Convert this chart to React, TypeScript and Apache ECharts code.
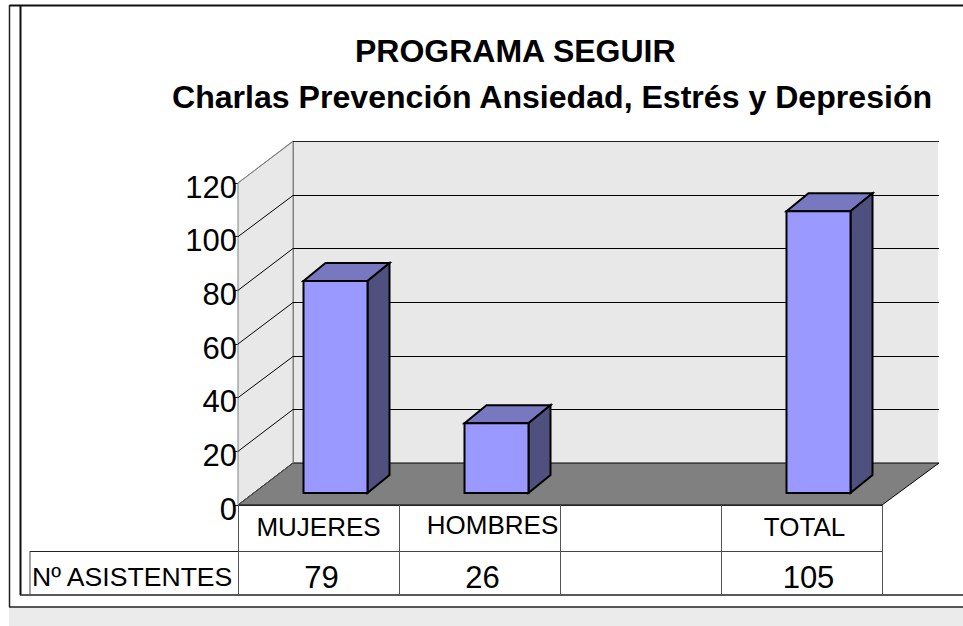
import React, { useEffect, useRef } from "react";
import * as echarts from "echarts";

const titleLine1 = "PROGRAMA SEGUIR";
const titleLine2 = "Charlas Prevención Ansiedad, Estrés y Depresión";
const categories = ["MUJERES", "HOMBRES", "", "TOTAL"];
const attendees: (number | null)[] = [79, 26, null, 105];
const rowLabel = "Nº ASISTENTES";
const yTicks = [0, 20, 40, 60, 80, 100, 120];
const valueLabelPad = [6, 6, 0, 14];

const FONT = '"Liberation Sans", Arial, sans-serif';
const GRID = { left: 238, top: 183, width: 644, height: 322 };
const DEPTH = { x: 55, y: -42 };
const BAR = { width: 64, dx: 22, dy: -18, shiftX: 17, shiftY: -12 };

function poly(points: number[][], fill: string, stroke: string, lineWidth = 1) {
  return { type: "polygon", shape: { points }, style: { fill, stroke, lineWidth } };
}
function seg(x1: number, y1: number, x2: number, y2: number, stroke: string, lineWidth = 1) {
  return { type: "line", shape: { x1, y1, x2, y2 }, style: { stroke, lineWidth }, silent: true };
}

export default function App() {
  const ref = useRef<HTMLDivElement>(null);
  useEffect(() => {
    document.body.style.margin = "0";
    const chart = echarts.init(ref.current!, null, { renderer: "svg" });
    const right = GRID.left + GRID.width;
    const bottom = GRID.top + GRID.height;
    const colEdges = categories.map((_, i) => GRID.left + (GRID.width * (i + 1)) / categories.length);
    chart.setOption({
      animation: false,
      backgroundColor: "#ffffff",
      textStyle: { fontFamily: FONT },
      title: [
        {
          text: titleLine1,
          left: 355,
          top: 35,
          padding: 0,
          textStyle: { fontFamily: FONT, fontSize: 32, fontWeight: "bold", color: "#000" },
        },
        {
          text: titleLine2,
          left: 172,
          top: 81,
          padding: 0,
          textStyle: { fontFamily: FONT, fontSize: 32.1, fontWeight: "bold", color: "#000" },
        },
      ],
      grid: { ...GRID },
      xAxis: [
        {
          type: "category",
          data: categories.map((c) =>
            c === "HOMBRES"
              ? { value: c, textStyle: { padding: [0, 0, 0, 26] } }
              : c === "TOTAL"
              ? { value: c, textStyle: { padding: [2, 0, 0, 6] } }
              : { value: c, textStyle: { padding: [2, 0, 0, 0] } }
          ),
          position: "bottom",
          axisLine: { show: false },
          axisTick: { show: false },
          axisLabel: { interval: 0, margin: 7, fontSize: 26, color: "#000", fontFamily: FONT, hideOverlap: false },
        },
        {
          type: "category",
          data: attendees.map((v, i) => ({
            value: v === null ? "" : String(v),
            textStyle: { padding: [0, 0, 0, valueLabelPad[i]] },
          })),
          position: "bottom",
          offset: 57,
          axisLine: { show: false },
          axisTick: { show: false },
          axisLabel: { interval: 0, margin: 0, fontSize: 31, color: "#000", fontFamily: FONT, hideOverlap: false },
        },
      ],
      yAxis: {
        type: "value",
        min: 0,
        max: 120,
        interval: 20,
        axisLine: { show: true, lineStyle: { color: "#000", width: 1 } },
        axisTick: { show: true, length: 5, lineStyle: { color: "#000", width: 1 } },
        splitLine: { show: false },
        axisLabel: {
          margin: 1,
          color: "#000",
          fontFamily: FONT,
          formatter: "{n|{value}}",
          rich: { n: { fontSize: 31, fontFamily: FONT, color: "#000", padding: [8, 0, 0, 0] } },
        },
      },
      graphic: [
        { type: "rect", z: 0, shape: { x: 9, y: 607, width: 954, height: 19 }, style: { fill: "#ebebeb" } },
        { ...seg(9.5, 5.5, 963, 5.5, "#111", 2), z: 10 },
        { ...seg(9.5, 5, 9.5, 607, "#222", 1.5), z: 10 },
        { ...seg(20.5, 5, 20.5, 595, "#111", 2), z: 10 },
        { ...seg(9, 607, 963, 607, "#222", 1.5), z: 10 },
        { ...seg(20, 595, 963, 595, "#222", 1.5), z: 10 },
        { ...seg(GRID.left, bottom + 46.5, right, bottom + 46.5, "#444"), z: 10 },
        { ...seg(30, bottom + 46.5, GRID.left, bottom + 46.5, "#222"), z: 10 },
        { ...seg(30, bottom + 46, 30, 595, "#444"), z: 10 },
        { ...seg(GRID.left + 0.5, bottom, GRID.left + 0.5, 595, "#555"), z: 10 },
        ...colEdges.map((x) => ({ ...seg(x + 0.5, bottom, x + 0.5, 595, "#555"), z: 10 })),
        {
          type: "text",
          z: 10,
          left: 32,
          top: 563,
          style: { text: rowLabel, font: `26.6px ${FONT}`, fill: "#000" },
        },
      ],
      series: [
        {
          // side wall, back wall, floor
          type: "custom",
          z: 1,
          data: [[0]],
          renderItem: (_p: any, api: any) => {
            const x0 = api.coord([0, 0])[0] - GRID.width / categories.length / 2;
            const y0 = api.coord([0, 0])[1];
            const yMax = api.coord([0, 120])[1];
            const xR = x0 + GRID.width;
            const { x: dx, y: dy } = DEPTH;
            return {
              type: "group",
              children: [
                poly([[x0, yMax], [x0 + dx, yMax + dy], [x0 + dx, y0 + dy], [x0, y0]], "#e8e8e8", "#808080"),
                { type: "rect", shape: { x: x0 + dx, y: yMax + dy, width: xR - x0 + 1, height: y0 - yMax }, style: { fill: "#e8e8e8" } },
                poly([[x0, y0], [x0 + dx, y0 + dy], [xR + dx + 2, y0 + dy], [xR, y0]], "#808080", "#000"),
                seg(x0 + dx + 0.5, yMax + dy, x0 + dx + 0.5, y0 + dy, "#808080"),
                seg(x0, y0, x0 + dx, y0 + dy, "#555"),
                seg(x0, y0 + 0.5, xR, y0 + 0.5, "#222", 1),
              ],
            };
          },
        },
        {
          // gridlines on side and back walls
          type: "custom",
          z: 2,
          data: yTicks.slice(1).map((v) => [0, v]),
          encode: { x: 0, y: 1 },
          renderItem: (_p: any, api: any) => {
            const x0 = api.coord([0, 0])[0] - GRID.width / categories.length / 2;
            const y = api.coord([0, api.value(1)])[1];
            const { x: dx, y: dy } = DEPTH;
            const isTop = api.value(1) === 120;
            const yBack = Math.round(y + dy) + 0.5;
            return {
              type: "group",
              children: [
                seg(x0, y, x0 + dx, yBack, isTop ? "#808080" : "#000"),
                seg(x0 + dx, yBack, x0 + dx + GRID.width + 2, yBack, isTop ? "#222" : "#000"),
              ],
            };
          },
        },
        {
          // 3D bars
          type: "custom",
          z: 3,
          data: attendees.map((v, i) => [i, v === null ? "-" : v]),
          encode: { x: 0, y: 1 },
          renderItem: (_p: any, api: any) => {
            const v = api.value(1);
            if (v === null || v === undefined || isNaN(v)) return null;
            const i = api.value(0);
            const base = api.coord([i, 0]);
            const top = api.coord([i, v]);
            const xl = base[0] + BAR.shiftX - BAR.width / 2;
            const xr = xl + BAR.width;
            const yb = base[1] + BAR.shiftY;
            const yt = top[1] + BAR.shiftY;
            const { dx, dy } = BAR;
            return {
              type: "group",
              children: [
                poly([[xl, yt], [xl + dx, yt + dy], [xr + dx, yt + dy], [xr, yt]], "#7878c0", "#000", 2),
                poly([[xr, yt], [xr + dx, yt + dy], [xr + dx, yb + dy], [xr, yb]], "#50507f", "#000", 2),
                poly([[xl, yt], [xr, yt], [xr, yb], [xl, yb]], "#9999ff", "#000", 2),
              ],
            };
          },
        },
      ],
    });
    return () => chart.dispose();
  }, []);
  return <div ref={ref} style={{ position: "absolute", left: 0, top: 0, width: 963, height: 626 }} />;
}
